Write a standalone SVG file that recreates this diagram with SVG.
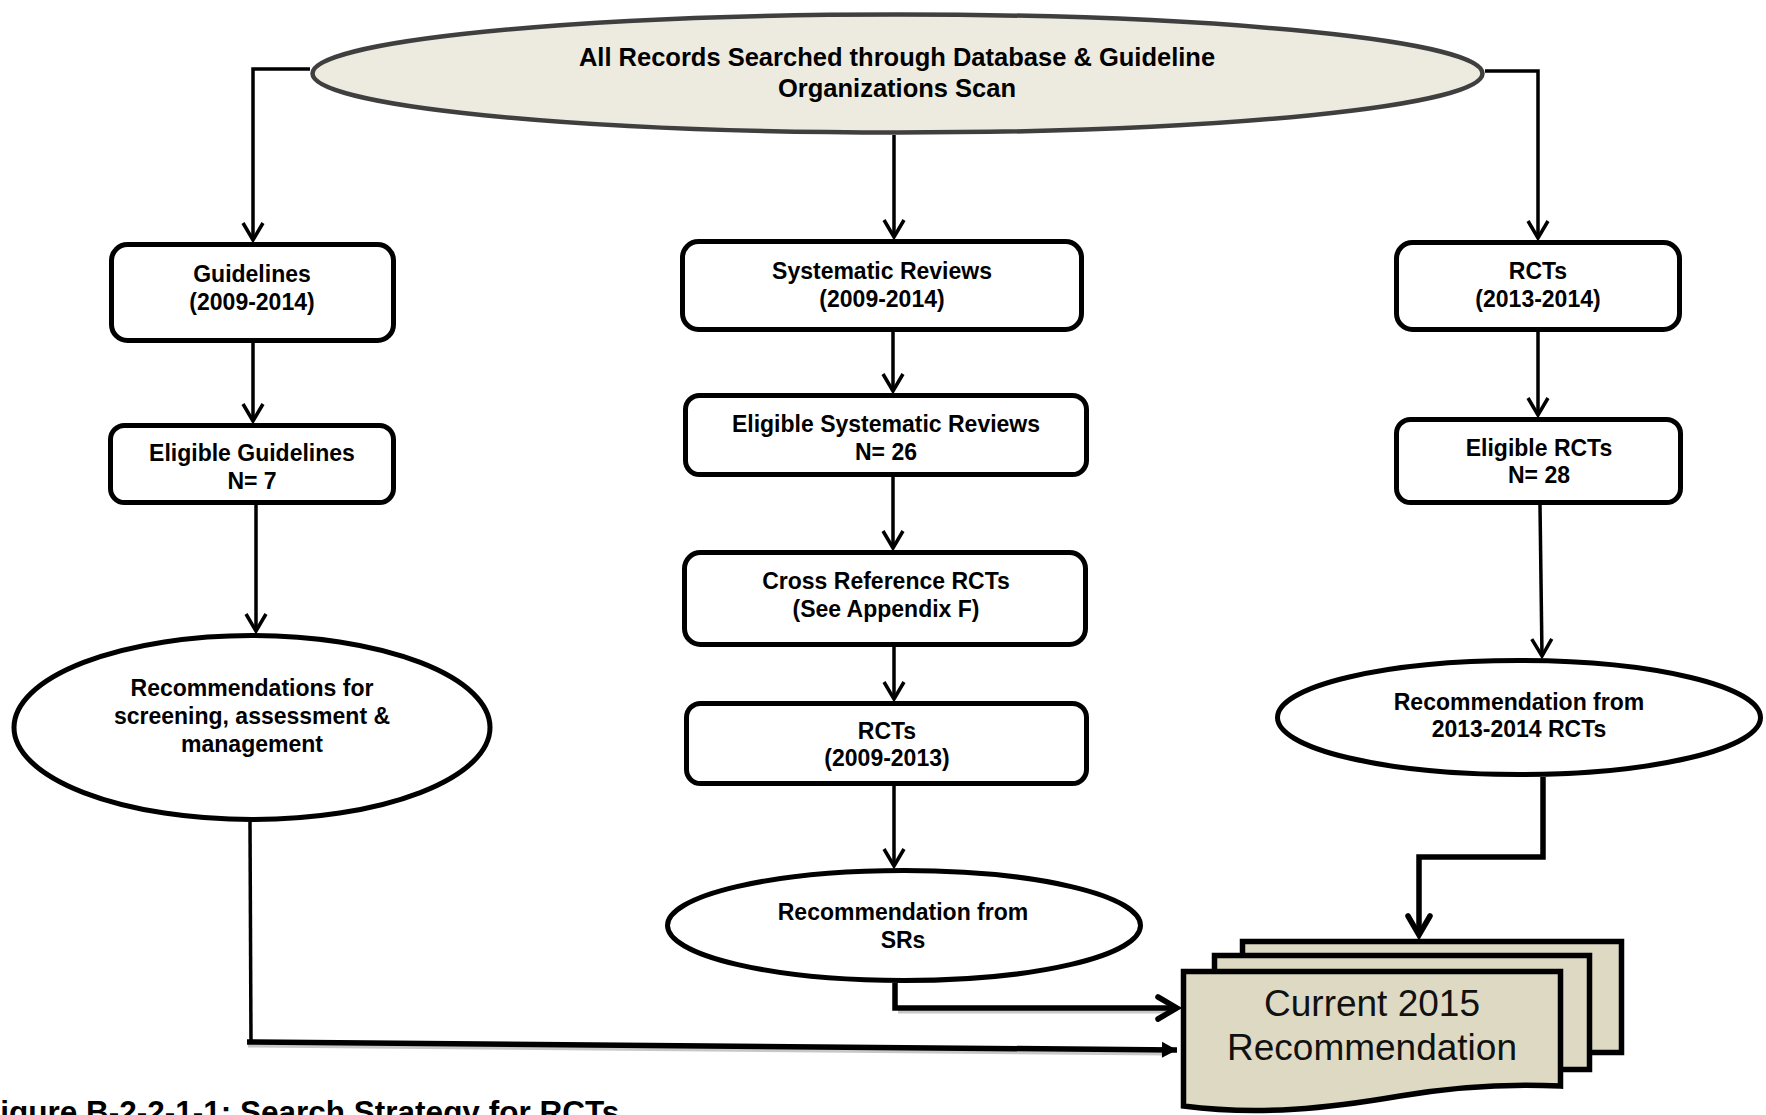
<svg xmlns="http://www.w3.org/2000/svg" width="1766" height="1115" viewBox="0 0 1766 1115">
<style>
  .box { fill: #ffffff; stroke: #000; stroke-width: 5; }
  .ell { fill: #ffffff; stroke: #000; stroke-width: 5; }
  .doc { fill: #DDD9C3; stroke: #000; stroke-width: 5.5; stroke-linejoin: miter; }
  .t { font-family: "Liberation Sans", Arial, sans-serif; font-weight: bold; font-size: 23px; fill: #000; text-anchor: middle; }
  .tt { font-family: "Liberation Sans", Arial, sans-serif; font-weight: bold; font-size: 25.5px; fill: #000; text-anchor: middle; }
  .dt { font-family: "Liberation Sans", Arial, sans-serif; font-size: 37px; fill: #111; text-anchor: middle; }
  .cap { font-family: "Liberation Sans", Arial, sans-serif; font-weight: bold; font-size: 31.5px; fill: #000; }
  .c { fill: none; stroke: #000; stroke-width: 3.5; }
  .ck { fill: none; stroke: #000; stroke-width: 5.5; }
  .sh { fill: none; stroke: #c8c8c8; stroke-width: 5; }
</style>
<defs>
  <marker id="arr" viewBox="-20 -12 24 24" refX="0" refY="0" markerWidth="24" markerHeight="24" markerUnits="userSpaceOnUse" orient="auto">
    <path d="M-17,-10 L0,0 L-17,10" fill="none" stroke="#000" stroke-width="3.5"/>
  </marker>
  <marker id="arrk" viewBox="-24 -14 28 28" refX="0" refY="0" markerWidth="28" markerHeight="28" markerUnits="userSpaceOnUse" orient="auto">
    <path d="M-19,-11 L0,0 L-19,11" fill="none" stroke="#000" stroke-width="5.5" stroke-linecap="round"/>
  </marker>
  <marker id="tri" viewBox="-16 -10 18 20" refX="0" refY="0" markerWidth="18" markerHeight="20" markerUnits="userSpaceOnUse" orient="auto">
    <path d="M-15,-8 L0,0 L-15,8 Z" fill="#000"/>
  </marker>
</defs>

<g id="connectors">
  <path class="c" d="M310,69 H253 V240" marker-end="url(#arr)"/>
  <path class="c" d="M894,135 V237" marker-end="url(#arr)"/>
  <path class="c" d="M1485,71 H1538 V238" marker-end="url(#arr)"/>
  <path class="c" d="M253,343 V421" marker-end="url(#arr)"/>
  <path class="c" d="M256,505 V631" marker-end="url(#arr)"/>
  <path class="c" d="M893,332 V391" marker-end="url(#arr)"/>
  <path class="c" d="M893,477 V548" marker-end="url(#arr)"/>
  <path class="c" d="M894,647 V699" marker-end="url(#arr)"/>
  <path class="c" d="M894,786 V866" marker-end="url(#arr)"/>
  <path class="c" d="M1538,332 V415" marker-end="url(#arr)"/>
  <path class="c" d="M1540,505 L1542,656" marker-end="url(#arr)"/>
  <path class="ck" d="M1543,777 V857 H1419 V935" marker-end="url(#arrk)"/>
  <path class="sh" d="M898,1011 H1170"/>
  <path class="ck" d="M895,983 V1008 H1177" marker-end="url(#arrk)"/>
  <path class="c" d="M250,822 L251,1044"/>
  <path class="sh" d="M248,1045 L1165,1053"/>
  <path class="ck" d="M247,1042 L1177,1050" marker-end="url(#tri)"/>
</g>

<g id="n-top">
  <ellipse cx="897.5" cy="73.5" rx="585" ry="59" fill="#EDEBE0" stroke="#3f3f3f" stroke-width="4.5"/>
  <text class="tt" x="897" y="66">All Records Searched through Database &amp; Guideline</text>
  <text class="tt" x="897" y="97">Organizations Scan</text>
</g>

<g id="n-guidelines">
  <rect class="box" x="111.5" y="244.5" width="282" height="96" rx="16"/>
  <text class="t" x="252" y="282">Guidelines</text>
  <text class="t" x="252" y="310">(2009-2014)</text>
</g>

<g id="n-sr">
  <rect class="box" x="682.5" y="241.5" width="399" height="88" rx="16"/>
  <text class="t" x="882" y="279">Systematic Reviews</text>
  <text class="t" x="882" y="307">(2009-2014)</text>
</g>

<g id="n-rcts">
  <rect class="box" x="1396.5" y="242.5" width="283" height="87" rx="16"/>
  <text class="t" x="1538" y="279">RCTs</text>
  <text class="t" x="1538" y="307">(2013-2014)</text>
</g>

<g id="n-elig-guidelines">
  <rect class="box" x="110.5" y="425.5" width="283" height="77" rx="14"/>
  <text class="t" x="252" y="461">Eligible Guidelines</text>
  <text class="t" x="252" y="489">N= 7</text>
</g>

<g id="n-elig-sr">
  <rect class="box" x="685.5" y="395.5" width="401" height="79" rx="14"/>
  <text class="t" x="886" y="432">Eligible Systematic Reviews</text>
  <text class="t" x="886" y="460">N= 26</text>
</g>

<g id="n-crossref">
  <rect class="box" x="684.5" y="552.5" width="401" height="92" rx="16"/>
  <text class="t" x="886" y="589">Cross Reference RCTs</text>
  <text class="t" x="886" y="617">(See Appendix F)</text>
</g>

<g id="n-rcts-0913">
  <rect class="box" x="686.5" y="703.5" width="400" height="80" rx="14"/>
  <text class="t" x="887" y="739">RCTs</text>
  <text class="t" x="887" y="766">(2009-2013)</text>
</g>

<g id="n-elig-rcts">
  <rect class="box" x="1396.5" y="419.5" width="284" height="83" rx="14"/>
  <text class="t" x="1539" y="456">Eligible RCTs</text>
  <text class="t" x="1539" y="483">N= 28</text>
</g>

<g id="n-rec-guidelines">
  <ellipse class="ell" cx="252" cy="727.5" rx="238" ry="92"/>
  <text class="t" x="252" y="696">Recommendations for</text>
  <text class="t" x="252" y="724">screening, assessment &amp;</text>
  <text class="t" x="252" y="752">management</text>
</g>

<g id="n-rec-srs">
  <ellipse class="ell" cx="904" cy="925.5" rx="236.5" ry="55"/>
  <text class="t" x="903" y="920">Recommendation from</text>
  <text class="t" x="903" y="948">SRs</text>
</g>

<g id="n-rec-rcts">
  <ellipse class="ell" cx="1519" cy="717.5" rx="241.5" ry="57"/>
  <text class="t" x="1519" y="710">Recommendation from</text>
  <text class="t" x="1519" y="737">2013-2014 RCTs</text>
</g>

<g id="n-current">
  <rect class="doc" x="1242.5" y="941.5" width="379" height="111"/>
  <rect class="doc" x="1214.5" y="955.5" width="375" height="114"/>
  <path class="doc" d="M1183.5,971.5 H1560.5 V1086 C1520,1084 1470,1084 1400,1096 C1330,1108 1260,1116 1183.5,1106 Z"/>
  <text class="dt" x="1372" y="1016">Current 2015</text>
  <text class="dt" x="1372" y="1060">Recommendation</text>
</g>

<text class="cap" x="-19" y="1123">Figure B-2-2-1-1: Search Strategy for RCTs</text>
</svg>
